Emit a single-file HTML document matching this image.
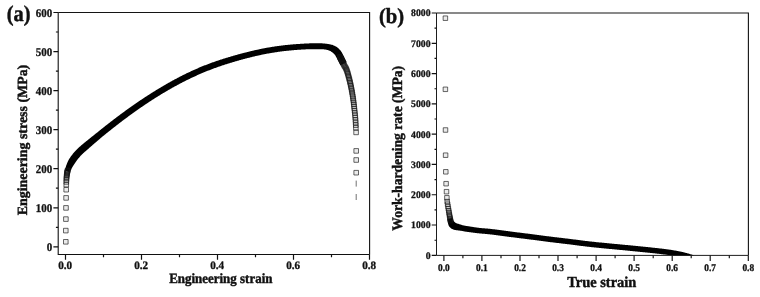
<!DOCTYPE html>
<html><head><meta charset="utf-8"><title>Stress-strain</title>
<style>html,body{margin:0;padding:0;background:#fff}svg{display:block}text{text-rendering:geometricPrecision}</style></head>
<body>
<svg width="760" height="297" viewBox="0 0 760 297">
<rect width="760" height="297" fill="#fff"/>
<defs><clipPath id="ca"><rect x="58.2" y="12.5" width="311.4" height="242.0"/></clipPath><clipPath id="cb"><rect x="436.5" y="13.0" width="311.9" height="242.4"/></clipPath></defs>
<path d="M58.2 12.5H369.6V254.5" fill="none" stroke="#141414" stroke-width="1.12"/>
<path d="M436.5 13.0H748.4V255.4" fill="none" stroke="#141414" stroke-width="1.12"/>
<g clip-path="url(#ca)" fill="none" stroke="#000"><path d="M70.16 172.25L70.37 171.65L70.58 171.08L70.81 170.52L71.04 169.95L71.28 169.39L71.53 168.85L71.79 168.32L72.05 167.81L72.33 167.30L72.62 166.78L72.93 166.25L73.24 165.72L73.56 165.21L73.89 164.71L74.22 164.22L74.56 163.75L74.90 163.29L75.24 162.81L75.57 162.31L75.91 161.80L76.27 161.30L76.62 160.80L76.98 160.31L77.34 159.82L77.71 159.33L78.09 158.85L78.47 158.37L78.86 157.90L79.25 157.43L79.64 156.97L80.04 156.51L80.44 156.07L80.85 155.62L81.27 155.18L81.69 154.75L82.11 154.32L82.54 153.90L82.97 153.49L83.42 153.08L83.87 152.67L84.34 152.26L84.81 151.85L85.29 151.43L85.78 151.01L86.27 150.59L86.77 150.16L87.27 149.74L87.75 149.31L88.23 148.88L88.71 148.46L89.19 148.03L89.68 147.61L90.16 147.18L90.65 146.76L91.14 146.33L91.63 145.90L92.12 145.48L92.61 145.05L93.10 144.62L93.59 144.20L94.08 143.77L94.57 143.35L95.06 142.93L95.55 142.50L96.04 142.08L96.53 141.66L97.02 141.24L97.51 140.81L98.00 140.39L98.49 139.97L98.99 139.55L99.48 139.13L99.97 138.71L100.47 138.29L100.96 137.87L101.45 137.45L101.95 137.03L102.45 136.62L102.95 136.21L103.45 135.80L103.95 135.40L104.46 134.99L104.96 134.58L105.46 134.17L105.96 133.77L106.47 133.36L106.97 132.95L107.48 132.55L107.98 132.14L108.49 131.74L108.99 131.33L109.50 130.93L110.00 130.53L110.51 130.13L111.02 129.72L111.53 129.32L112.03 128.92L112.54 128.52L113.05 128.12L113.56 127.72L114.07 127.32L114.58 126.92L115.09 126.52L115.60 126.13L116.11 125.73L116.62 125.33L117.13 124.94L117.64 124.54L118.16 124.15L118.67 123.75L119.18 123.36L119.70 122.97L120.21 122.57L120.72 122.18L121.24 121.79L121.75 121.40L122.27 121.01L122.78 120.62L123.30 120.23L123.82 119.84L124.33 119.45L124.85 119.07L125.37 118.68L125.89 118.29L126.41 117.91L126.93 117.52L127.45 117.14L127.97 116.75L128.49 116.37L129.01 115.99L129.53 115.61L130.05 115.22L130.57 114.84L131.10 114.46L131.62 114.08L132.14 113.71L132.67 113.33L133.19 112.95L133.72 112.57L134.24 112.20L134.77 111.82L135.30 111.45L135.82 111.07L136.35 110.70L136.88 110.33L137.41 109.96L137.93 109.58L138.46 109.21L138.99 108.84L139.52 108.47L140.05 108.11L140.58 107.74L141.12 107.37L141.65 107.01L142.18 106.64L142.71 106.28L143.25 105.91L143.78 105.55L144.32 105.19L144.85 104.82L145.39 104.46L145.92 104.10L146.46 103.74L147.00 103.38L147.53 103.03L148.07 102.67L148.61 102.31L149.15 101.96L149.69 101.60L150.23 101.25L150.77 100.90L151.31 100.54L151.85 100.19L152.39 99.84L152.94 99.49L153.48 99.15L154.02 98.80L154.57 98.45L155.11 98.11L155.66 97.76L156.21 97.42L156.75 97.08L157.30 96.74L157.85 96.40L158.40 96.06L158.95 95.72L159.50 95.38L160.05 95.04L160.60 94.71L161.15 94.37L161.70 94.04L162.25 93.70L162.80 93.37L163.36 93.04L163.91 92.71L164.47 92.38L165.02 92.05L165.58 91.72L166.13 91.40L166.69 91.07L167.24 90.74L167.80 90.42L168.36 90.10L168.92 89.78L169.48 89.45L170.04 89.13L170.60 88.82L171.16 88.50L171.72 88.18L172.28 87.87L172.84 87.55L173.41 87.24L173.97 86.92L174.53 86.61L175.10 86.30L175.66 85.99L176.23 85.68L176.80 85.38L177.36 85.07L177.93 84.76L178.50 84.46L179.07 84.16L179.64 83.86L180.20 83.56L180.77 83.26L181.34 82.96L181.92 82.66L182.49 82.36L183.06 82.07L183.63 81.78L184.21 81.48L184.78 81.19L185.36 80.90L185.93 80.61L186.51 80.33L187.08 80.04L187.66 79.75L188.24 79.47L188.82 79.19L189.39 78.91L189.97 78.63L190.55 78.35L191.13 78.07L191.71 77.80L192.30 77.52L192.88 77.25L193.46 76.98L194.04 76.70L194.63 76.44L195.21 76.17L195.80 75.90L196.38 75.64L196.97 75.37L197.56 75.11L198.14 74.85L198.73 74.59L199.32 74.33L199.91 74.08L200.50 73.82L201.09 73.57L201.68 73.32L202.27 73.06L202.86 72.81L203.45 72.56L204.05 72.32L204.64 72.07L205.23 71.82L205.83 71.58L206.42 71.34L207.02 71.10L207.62 70.86L208.21 70.62L208.81 70.39L209.41 70.15L210.01 69.92L210.61 69.69L211.21 69.46L211.81 69.23L212.41 69.01L213.01 68.78L213.61 68.56L214.22 68.33L214.82 68.11L215.42 67.89L216.03 67.68L216.63 67.46L217.24 67.24L217.85 67.03L218.45 66.82L219.06 66.61L219.67 66.40L220.28 66.19L220.89 65.98L221.50 65.77L222.11 65.57L222.72 65.37L223.33 65.17L223.94 64.96L224.55 64.76L225.17 64.57L225.78 64.37L226.39 64.17L227.01 63.98L227.62 63.78L228.24 63.59L228.85 63.40L229.47 63.21L230.09 63.02L230.70 62.83L231.32 62.64L231.94 62.46L232.55 62.27L233.17 62.09L233.79 61.90L234.41 61.72L235.03 61.54L235.65 61.36L236.27 61.18L236.89 61.00L237.51 60.82L238.13 60.65L238.75 60.47L239.37 60.30L240.00 60.12L240.62 59.95L241.24 59.78L241.86 59.61L242.49 59.44L243.11 59.27L243.73 59.10L244.36 58.93L244.98 58.77L245.60 58.60L246.23 58.44L246.85 58.27L247.48 58.11L248.10 57.95L248.73 57.79L249.35 57.63L249.98 57.47L250.60 57.32L251.23 57.16L251.85 57.01L252.48 56.86L253.11 56.71L253.73 56.56L254.36 56.41L254.99 56.26L255.61 56.12L256.24 55.97L256.87 55.83L257.50 55.69L258.13 55.55L258.76 55.41L259.38 55.27L260.01 55.13L260.64 55.00L261.27 54.87L261.90 54.73L262.53 54.60L263.16 54.47L263.79 54.35L264.42 54.22L265.05 54.10L265.68 53.98L266.32 53.85L266.95 53.74L267.58 53.62L268.21 53.50L268.84 53.39L269.48 53.27L270.11 53.16L270.74 53.05L271.38 52.94L272.01 52.84L272.65 52.73L273.28 52.63L273.91 52.53L274.55 52.43L275.18 52.33L275.82 52.23L276.45 52.14L277.09 52.05L277.73 51.95L278.36 51.86L279.00 51.77L279.64 51.69L280.27 51.60L280.91 51.52L281.55 51.44L282.19 51.35L282.83 51.27L283.46 51.20L284.10 51.12L284.74 51.05L285.38 50.97L286.02 50.90L286.66 50.83L287.30 50.76L287.94 50.69L288.58 50.63L289.22 50.56L289.86 50.50L290.50 50.44L291.14 50.38L291.78 50.32L292.43 50.26L293.07 50.20L293.71 50.15L294.35 50.10L294.99 50.04L295.63 49.99L296.28 49.94L296.92 49.89L297.56 49.85L298.21 49.80L298.85 49.76L299.49 49.71L300.13 49.67L300.78 49.63L301.42 49.59L302.07 49.56L302.71 49.52L303.35 49.49L304.00 49.45L304.64 49.42L305.29 49.39L305.94 49.36L306.59 49.33L307.23 49.29L307.87 49.26L308.51 49.24L309.14 49.22L309.76 49.20L310.40 49.19L311.04 49.18L311.69 49.16L312.34 49.15L312.98 49.15L313.62 49.14L314.27 49.13L314.91 49.13L315.55 49.13L316.19 49.13L316.82 49.13L317.46 49.14L318.10 49.15L318.74 49.16L319.39 49.17L320.03 49.19L320.67 49.20L321.31 49.22L321.93 49.24L322.52 49.27L323.10 49.31L323.68 49.36L324.28 49.43L324.89 49.51L325.50 49.60L326.12 49.70L326.72 49.79L327.28 49.89L327.81 50.05L328.34 50.23L328.88 50.44L329.40 50.65L329.88 50.87L330.33 51.10L330.79 51.36L331.24 51.64L331.67 51.92L332.06 52.21L332.46 52.49L332.86 52.80L333.25 53.14L333.63 53.48L333.98 53.83L334.32 54.19L334.65 54.58L334.96 54.97L335.24 55.36L335.50 55.75L335.76 56.17L336.02 56.65L336.30 57.18L336.59 57.75L336.90 58.34L337.19 58.90L337.47 59.45L337.75 60.02L338.04 60.59L338.33 61.17L338.62 61.75L338.91 62.33L339.20 62.91L339.49 63.48L339.78 64.06L340.06 64.64L340.35 65.22L346.65 62.18L346.38 61.59L346.10 61.00L345.81 60.41L345.53 59.81L345.25 59.22L344.97 58.63L344.68 58.05L344.40 57.46L344.12 56.87L343.82 56.26L343.51 55.65L343.20 55.07L342.90 54.49L342.60 53.90L342.26 53.27L341.90 52.61L341.49 51.93L341.03 51.25L340.54 50.61L340.02 49.99L339.47 49.39L338.90 48.82L338.32 48.29L337.71 47.78L337.08 47.29L336.42 46.82L335.73 46.39L335.02 46.01L334.31 45.68L333.59 45.38L332.84 45.11L332.08 44.86L331.34 44.66L330.62 44.50L329.90 44.35L329.16 44.22L328.41 44.10L327.70 43.98L327.02 43.87L326.36 43.77L325.68 43.68L324.99 43.59L324.29 43.51L323.58 43.45L322.86 43.40L322.15 43.36L321.47 43.35L320.82 43.33L320.16 43.31L319.50 43.30L318.84 43.29L318.18 43.28L317.52 43.28L316.86 43.27L316.19 43.27L315.53 43.27L314.87 43.28L314.21 43.28L313.56 43.29L312.90 43.30L312.24 43.31L311.59 43.32L310.93 43.34L310.28 43.35L309.62 43.37L308.94 43.39L308.27 43.41L307.61 43.44L306.95 43.48L306.29 43.51L305.64 43.54L305.00 43.58L304.35 43.61L303.69 43.65L303.04 43.68L302.38 43.72L301.73 43.76L301.07 43.80L300.42 43.84L299.77 43.88L299.11 43.92L298.46 43.97L297.80 44.01L297.15 44.06L296.49 44.10L295.84 44.15L295.19 44.20L294.53 44.25L293.88 44.30L293.22 44.36L292.57 44.41L291.92 44.47L291.26 44.53L290.61 44.58L289.96 44.64L289.30 44.71L288.65 44.77L287.99 44.83L287.34 44.90L286.69 44.97L286.03 45.04L285.38 45.11L284.73 45.18L284.08 45.25L283.42 45.33L282.77 45.40L282.12 45.48L281.46 45.56L280.81 45.64L280.16 45.73L279.51 45.81L278.86 45.90L278.21 45.99L277.55 46.07L276.90 46.17L276.25 46.26L275.60 46.35L274.95 46.45L274.30 46.55L273.65 46.65L273.00 46.75L272.35 46.85L271.70 46.95L271.05 47.06L270.40 47.17L269.76 47.28L269.11 47.39L268.46 47.50L267.81 47.61L267.16 47.73L266.52 47.85L265.87 47.97L265.23 48.09L264.58 48.21L263.93 48.33L263.29 48.46L262.64 48.59L262.00 48.72L261.35 48.85L260.71 48.98L260.07 49.11L259.43 49.25L258.78 49.38L258.14 49.52L257.50 49.66L256.86 49.80L256.21 49.94L255.57 50.08L254.94 50.23L254.30 50.37L253.66 50.52L253.02 50.67L252.38 50.82L251.74 50.97L251.10 51.12L250.46 51.28L249.83 51.43L249.19 51.59L248.55 51.74L247.92 51.90L247.28 52.06L246.64 52.22L246.01 52.38L245.37 52.54L244.74 52.70L244.11 52.86L243.47 53.02L242.84 53.19L242.20 53.36L241.57 53.52L240.94 53.69L240.31 53.86L239.67 54.03L239.04 54.20L238.41 54.37L237.78 54.55L237.15 54.72L236.52 54.89L235.89 55.07L235.26 55.25L234.63 55.42L234.00 55.60L233.37 55.78L232.74 55.96L232.11 56.14L231.48 56.33L230.85 56.51L230.22 56.69L229.59 56.88L228.96 57.07L228.34 57.25L227.71 57.44L227.08 57.63L226.45 57.82L225.83 58.02L225.20 58.21L224.57 58.41L223.95 58.60L223.32 58.80L222.70 59.00L222.07 59.20L221.45 59.40L220.82 59.60L220.20 59.80L219.58 60.01L218.95 60.22L218.33 60.42L217.71 60.63L217.08 60.84L216.46 61.06L215.84 61.27L215.22 61.48L214.60 61.70L213.98 61.92L213.36 62.14L212.74 62.36L212.12 62.58L211.50 62.81L210.89 63.03L210.27 63.26L209.65 63.49L209.04 63.72L208.42 63.95L207.80 64.18L207.19 64.42L206.58 64.65L205.96 64.89L205.35 65.13L204.74 65.37L204.13 65.61L203.52 65.86L202.90 66.10L202.29 66.35L201.69 66.60L201.08 66.85L200.47 67.10L199.86 67.36L199.26 67.61L198.65 67.87L198.05 68.13L197.44 68.39L196.84 68.65L196.24 68.92L195.63 69.18L195.03 69.45L194.43 69.72L193.83 69.98L193.23 70.26L192.64 70.53L192.04 70.80L191.44 71.08L190.84 71.35L190.25 71.63L189.65 71.91L189.06 72.19L188.47 72.47L187.87 72.76L187.28 73.04L186.69 73.33L186.10 73.62L185.51 73.90L184.92 74.19L184.33 74.48L183.74 74.78L183.16 75.07L182.57 75.36L181.98 75.66L181.40 75.96L180.81 76.26L180.23 76.56L179.64 76.86L179.06 77.16L178.48 77.46L177.90 77.76L177.32 78.07L176.73 78.38L176.16 78.68L175.58 78.99L175.00 79.30L174.42 79.61L173.84 79.92L173.27 80.24L172.69 80.55L172.11 80.87L171.54 81.18L170.97 81.50L170.39 81.82L169.82 82.14L169.25 82.46L168.68 82.78L168.11 83.10L167.53 83.42L166.96 83.75L166.40 84.07L165.83 84.40L165.26 84.73L164.69 85.06L164.12 85.39L163.56 85.72L162.99 86.05L162.43 86.38L161.86 86.71L161.30 87.05L160.74 87.38L160.17 87.72L159.61 88.06L159.05 88.39L158.49 88.73L157.93 89.07L157.37 89.41L156.81 89.75L156.25 90.10L155.69 90.44L155.14 90.78L154.58 91.13L154.02 91.47L153.47 91.82L152.91 92.17L152.36 92.52L151.80 92.87L151.25 93.22L150.70 93.57L150.14 93.92L149.59 94.27L149.04 94.63L148.49 94.98L147.94 95.33L147.39 95.69L146.84 96.04L146.29 96.40L145.74 96.76L145.19 97.12L144.65 97.47L144.10 97.83L143.55 98.19L143.01 98.55L142.46 98.92L141.92 99.28L141.37 99.64L140.83 100.01L140.28 100.37L139.74 100.74L139.20 101.10L138.66 101.47L138.12 101.84L137.57 102.21L137.03 102.57L136.49 102.94L135.95 103.32L135.42 103.69L134.88 104.06L134.34 104.43L133.80 104.80L133.27 105.18L132.73 105.55L132.19 105.93L131.66 106.30L131.12 106.68L130.59 107.06L130.06 107.44L129.52 107.82L128.99 108.19L128.46 108.57L127.93 108.96L127.39 109.34L126.86 109.72L126.33 110.10L125.80 110.48L125.27 110.87L124.74 111.25L124.22 111.64L123.69 112.02L123.16 112.41L122.63 112.80L122.11 113.18L121.58 113.57L121.05 113.96L120.53 114.35L120.00 114.74L119.48 115.13L118.96 115.52L118.43 115.91L117.91 116.30L117.39 116.70L116.87 117.09L116.34 117.48L115.82 117.88L115.30 118.27L114.78 118.67L114.26 119.06L113.74 119.46L113.22 119.86L112.70 120.26L112.19 120.65L111.67 121.05L111.15 121.45L110.63 121.85L110.12 122.25L109.60 122.65L109.09 123.05L108.57 123.45L108.06 123.86L107.54 124.26L107.03 124.66L106.51 125.06L106.00 125.47L105.49 125.87L104.97 126.28L104.46 126.68L103.95 127.09L103.44 127.50L102.93 127.90L102.42 128.31L101.91 128.72L101.40 129.12L100.89 129.53L100.38 129.94L99.87 130.35L99.36 130.76L98.85 131.17L98.35 131.58L97.84 131.99L97.33 132.39L96.81 132.80L96.30 133.20L95.79 133.61L95.27 134.01L94.76 134.42L94.25 134.82L93.74 135.23L93.23 135.64L92.72 136.04L92.21 136.45L91.70 136.86L91.19 137.27L90.68 137.68L90.17 138.09L89.66 138.50L89.16 138.91L88.65 139.32L88.14 139.73L87.64 140.14L87.13 140.55L86.63 140.95L86.12 141.37L85.61 141.78L85.10 142.19L84.59 142.60L84.09 143.02L83.58 143.44L83.07 143.86L82.57 144.28L82.08 144.70L81.59 145.12L81.09 145.54L80.59 145.97L80.09 146.41L79.58 146.85L79.07 147.30L78.56 147.76L78.05 148.24L77.54 148.72L77.04 149.21L76.55 149.70L76.07 150.20L75.59 150.71L75.12 151.22L74.65 151.74L74.19 152.26L73.74 152.79L73.30 153.32L72.86 153.86L72.43 154.39L72.01 154.94L71.59 155.48L71.18 156.04L70.77 156.60L70.37 157.16L69.98 157.72L69.60 158.29L69.21 158.88L68.84 159.49L68.51 160.14L68.19 160.79L67.89 161.44L67.60 162.09L67.33 162.73L67.07 163.37L66.81 164.01L66.55 164.67L66.30 165.35L66.06 166.04L65.86 166.73L65.66 167.40L65.48 168.08L65.31 168.75L65.14 169.42L64.99 170.09L64.84 170.75Z" fill="#000" stroke="none"/><g stroke-width="0.65" stroke="#161616" fill="#000" fill-opacity="0.08"><path d="M63.50 239.50h4.6v4.6h-4.6z"/><path d="M63.50 228.30h4.6v4.6h-4.6z"/><path d="M63.60 216.80h4.6v4.6h-4.6z"/><path d="M63.70 205.60h4.6v4.6h-4.6z"/><path d="M63.80 195.60h4.6v4.6h-4.6z"/><path d="M63.90 187.40h4.6v4.6h-4.6z"/><path d="M63.95 182.40h4.6v4.6h-4.6z"/><path d="M64.00 179.60h4.6v4.6h-4.6z"/><path d="M64.10 177.50h4.6v4.6h-4.6z"/><path d="M64.20 175.80h4.6v4.6h-4.6z"/><path d="M64.30 174.30h4.6v4.6h-4.6z"/><path d="M64.45 173.00h4.6v4.6h-4.6z"/><path d="M64.60 171.90h4.6v4.6h-4.6z"/><path d="M64.75 170.90h4.6v4.6h-4.6z"/><path d="M64.90 170.10h4.6v4.6h-4.6z"/><path d="M65.05 169.40h4.6v4.6h-4.6z"/><path d="M65.20 168.70h4.6v4.6h-4.6z"/><path d="M65.40 168.10h4.6v4.6h-4.6z"/><path d="M337.70 54.70h4.6v4.6h-4.6z"/><path d="M338.30 55.80h4.6v4.6h-4.6z"/><path d="M338.89 56.90h4.6v4.6h-4.6z"/><path d="M339.46 58.03h4.6v4.6h-4.6z"/><path d="M340.02 59.18h4.6v4.6h-4.6z"/><path d="M340.56 60.34h4.6v4.6h-4.6z"/><path d="M341.11 61.52h4.6v4.6h-4.6z"/><path d="M341.69 62.69h4.6v4.6h-4.6z"/><path d="M342.35 63.84h4.6v4.6h-4.6z"/><path d="M343.06 64.99h4.6v4.6h-4.6z"/><path d="M343.71 66.18h4.6v4.6h-4.6z"/><path d="M344.24 67.45h4.6v4.6h-4.6z"/><path d="M344.72 68.77h4.6v4.6h-4.6z"/><path d="M345.16 70.12h4.6v4.6h-4.6z"/><path d="M345.57 71.50h4.6v4.6h-4.6z"/><path d="M345.96 72.91h4.6v4.6h-4.6z"/><path d="M346.35 74.35h4.6v4.6h-4.6z"/><path d="M346.73 75.82h4.6v4.6h-4.6z"/><path d="M347.12 77.31h4.6v4.6h-4.6z"/><path d="M347.49 78.83h4.6v4.6h-4.6z"/><path d="M347.86 80.39h4.6v4.6h-4.6z"/><path d="M348.22 81.97h4.6v4.6h-4.6z"/><path d="M348.57 83.60h4.6v4.6h-4.6z"/><path d="M348.91 85.25h4.6v4.6h-4.6z"/><path d="M349.24 86.95h4.6v4.6h-4.6z"/><path d="M349.56 88.68h4.6v4.6h-4.6z"/><path d="M349.87 90.45h4.6v4.6h-4.6z"/><path d="M350.18 92.26h4.6v4.6h-4.6z"/><path d="M350.47 94.12h4.6v4.6h-4.6z"/><path d="M350.76 96.01h4.6v4.6h-4.6z"/><path d="M351.03 97.95h4.6v4.6h-4.6z"/><path d="M351.30 99.94h4.6v4.6h-4.6z"/><path d="M351.55 101.98h4.6v4.6h-4.6z"/><path d="M351.80 104.07h4.6v4.6h-4.6z"/><path d="M352.04 106.21h4.6v4.6h-4.6z"/><path d="M352.28 108.40h4.6v4.6h-4.6z"/><path d="M352.53 110.65h4.6v4.6h-4.6z"/><path d="M352.78 112.96h4.6v4.6h-4.6z"/><path d="M353.01 115.32h4.6v4.6h-4.6z"/><path d="M353.20 117.76h4.6v4.6h-4.6z"/><path d="M353.35 120.26h4.6v4.6h-4.6z"/><path d="M353.48 122.83h4.6v4.6h-4.6z"/><path d="M353.60 125.47h4.6v4.6h-4.6z"/><path d="M353.80 130.10h4.6v4.6h-4.6z"/><path d="M353.90 148.60h4.6v4.6h-4.6z"/><path d="M353.90 157.70h4.6v4.6h-4.6z"/><path d="M353.90 170.40h4.6v4.6h-4.6z"/></g><path d="M356.2 180.6v6M356.2 194.0v6" stroke="#333" stroke-width="0.7"/></g>
<g clip-path="url(#cb)" fill="none" stroke="#000"><path d="M447.30 219.23L447.43 219.84L447.55 220.43L447.66 220.99L447.74 221.59L447.83 222.28L447.96 223.07L448.16 223.92L448.42 224.80L448.74 225.68L449.19 226.59L449.90 227.37L450.69 228.06L451.53 228.63L452.37 229.07L453.22 229.43L454.04 229.71L454.81 229.91L455.54 230.06L456.23 230.16L456.87 230.25L457.48 230.34L458.09 230.42L458.72 230.52L459.36 230.61L459.99 230.69L460.63 230.78L461.27 230.86L461.90 230.98L462.53 231.10L463.17 231.22L463.81 231.33L464.45 231.44L465.09 231.54L465.73 231.64L466.36 231.74L467.00 231.83L467.63 231.91L468.26 232.00L468.88 232.08L469.51 232.17L470.13 232.25L470.75 232.33L471.36 232.41L471.98 232.50L472.59 232.59L473.21 232.67L473.84 232.76L474.47 232.85L475.10 232.93L475.74 233.02L476.38 233.10L477.02 233.18L477.66 233.25L478.31 233.31L478.94 233.37L479.58 233.43L480.22 233.49L480.85 233.55L481.48 233.61L482.11 233.66L482.74 233.72L483.37 233.77L484.00 233.82L484.62 233.87L485.25 233.92L485.87 233.98L486.49 234.03L487.11 234.08L487.72 234.14L488.34 234.20L488.95 234.26L489.56 234.32L490.18 234.38L490.79 234.45L491.41 234.52L492.02 234.59L492.64 234.67L493.26 234.74L493.87 234.82L494.49 234.89L495.11 234.97L495.72 235.05L496.34 235.13L496.96 235.21L497.58 235.29L498.20 235.38L498.82 235.46L499.44 235.54L500.06 235.63L500.68 235.71L501.30 235.80L501.92 235.89L502.54 235.97L503.16 236.06L503.78 236.14L504.41 236.23L505.03 236.31L505.65 236.40L506.28 236.48L506.90 236.57L507.53 236.65L508.15 236.73L508.78 236.82L509.41 236.90L510.03 236.98L510.66 237.06L511.28 237.13L511.90 237.21L512.53 237.29L513.15 237.37L513.77 237.45L514.40 237.53L515.02 237.60L515.64 237.68L516.26 237.76L516.89 237.84L517.51 237.91L518.13 237.99L518.76 238.07L519.38 238.14L520.00 238.22L520.62 238.30L521.25 238.38L521.87 238.45L522.49 238.53L523.11 238.61L523.74 238.68L524.36 238.76L524.98 238.84L525.60 238.92L526.22 238.99L526.84 239.07L527.47 239.15L528.09 239.23L528.71 239.31L529.33 239.39L529.95 239.47L530.57 239.55L531.19 239.63L531.81 239.71L532.43 239.79L533.05 239.87L533.68 239.95L534.30 240.03L534.92 240.11L535.54 240.19L536.16 240.27L536.78 240.36L537.40 240.44L538.03 240.52L538.65 240.60L539.27 240.68L539.89 240.77L540.51 240.85L541.14 240.93L541.76 241.01L542.38 241.09L543.01 241.18L543.63 241.26L544.25 241.34L544.87 241.42L545.50 241.50L546.12 241.58L546.75 241.66L547.37 241.74L547.99 241.82L548.62 241.90L549.24 241.98L549.87 242.05L550.49 242.13L551.12 242.21L551.74 242.29L552.36 242.36L552.99 242.44L553.61 242.51L554.24 242.59L554.86 242.66L555.48 242.74L556.11 242.81L556.73 242.89L557.36 242.96L557.98 243.04L558.60 243.11L559.23 243.18L559.85 243.26L560.47 243.33L561.10 243.40L561.72 243.48L562.34 243.55L562.96 243.63L563.59 243.70L564.21 243.77L564.83 243.85L565.45 243.92L566.07 244.00L566.70 244.07L567.32 244.14L567.94 244.22L568.56 244.29L569.18 244.37L569.80 244.45L570.42 244.52L571.04 244.60L571.66 244.68L572.28 244.76L572.90 244.83L573.52 244.91L574.15 244.99L574.77 245.07L575.39 245.15L576.01 245.23L576.63 245.31L577.25 245.40L577.88 245.48L578.50 245.56L579.12 245.64L579.74 245.72L580.37 245.80L580.99 245.88L581.61 245.96L582.24 246.04L582.86 246.12L583.49 246.20L584.11 246.27L584.74 246.35L585.36 246.43L585.99 246.50L586.62 246.58L587.24 246.65L587.87 246.73L588.50 246.80L589.13 246.87L589.75 246.94L590.38 247.01L591.01 247.08L591.63 247.15L592.26 247.21L592.89 247.28L593.51 247.34L594.14 247.41L594.77 247.47L595.39 247.54L596.02 247.60L596.65 247.67L597.27 247.73L597.90 247.79L598.52 247.85L599.15 247.91L599.77 247.98L600.40 248.04L601.03 248.10L601.65 248.16L602.28 248.22L602.90 248.28L603.53 248.34L604.15 248.40L604.77 248.46L605.40 248.52L606.02 248.58L606.65 248.64L607.27 248.70L607.90 248.76L608.52 248.82L609.14 248.88L609.77 248.94L610.39 249.00L611.02 249.06L611.64 249.12L612.27 249.18L612.89 249.24L613.52 249.30L614.15 249.36L614.77 249.42L615.40 249.48L616.02 249.54L616.65 249.60L617.27 249.66L617.90 249.71L618.52 249.77L619.14 249.83L619.77 249.89L620.39 249.95L621.02 250.01L621.64 250.07L622.27 250.12L622.89 250.18L623.52 250.24L624.14 250.30L624.76 250.36L625.39 250.42L626.01 250.48L626.63 250.54L627.26 250.60L627.88 250.66L628.51 250.72L629.13 250.78L629.75 250.84L630.38 250.90L631.00 250.96L631.62 251.02L632.25 251.08L632.87 251.14L633.50 251.20L634.12 251.27L634.75 251.33L635.37 251.39L635.99 251.45L636.62 251.51L637.24 251.57L637.87 251.63L638.49 251.69L639.11 251.76L639.74 251.82L640.36 251.88L640.98 251.94L641.61 252.00L642.23 252.07L642.85 252.13L643.48 252.19L644.10 252.26L644.72 252.32L645.35 252.38L645.97 252.45L646.59 252.51L647.22 252.57L647.84 252.64L648.46 252.70L649.08 252.77L649.71 252.83L650.33 252.90L650.95 252.97L651.58 253.03L652.20 253.10L652.82 253.16L653.44 253.23L654.07 253.30L654.69 253.36L655.31 253.43L655.93 253.50L656.55 253.57L657.17 253.64L657.79 253.71L658.41 253.78L659.03 253.85L659.65 253.93L660.27 254.00L660.89 254.08L661.51 254.15L662.13 254.23L662.75 254.30L663.37 254.38L663.99 254.45L664.61 254.53L665.22 254.61L665.84 254.69L666.45 254.77L667.07 254.86L667.68 254.94L668.29 255.03L668.91 255.12L669.52 255.21L670.13 255.30L670.74 255.40L671.35 255.49L671.96 255.59L672.57 255.69L673.17 255.80L673.78 255.90L674.39 256.01L675.00 256.12L675.61 256.24L676.22 256.35L676.82 256.47L677.43 256.58L678.04 256.71L678.64 256.83L679.25 256.95L679.85 257.08L680.45 257.21L681.05 257.34L681.64 257.47L682.24 257.61L682.83 257.75L683.43 257.90L684.02 258.05L684.61 258.20L685.20 258.36L685.79 258.52L686.37 258.68L686.95 258.85L687.52 259.02L688.09 259.19L688.65 259.38L689.20 259.57L689.74 259.76L690.25 259.96L690.75 260.17L691.26 260.41L691.80 260.67L694.20 255.73L693.61 255.44L692.98 255.15L692.33 254.87L691.67 254.61L691.03 254.38L690.40 254.16L689.76 253.96L689.13 253.76L688.50 253.57L687.87 253.39L687.25 253.21L686.63 253.04L686.00 252.88L685.38 252.72L684.75 252.56L684.13 252.41L683.50 252.26L682.87 252.11L682.24 251.97L681.62 251.83L680.99 251.70L680.37 251.57L679.74 251.44L679.12 251.31L678.49 251.19L677.87 251.07L677.24 250.95L676.62 250.83L675.99 250.71L675.36 250.60L674.74 250.49L674.11 250.38L673.48 250.27L672.85 250.17L672.22 250.06L671.59 249.96L670.96 249.87L670.33 249.77L669.70 249.68L669.07 249.58L668.45 249.50L667.82 249.41L667.19 249.32L666.56 249.24L665.93 249.16L665.30 249.08L664.67 249.00L664.05 248.92L663.42 248.84L662.79 248.77L662.17 248.69L661.54 248.61L660.92 248.54L660.30 248.47L659.67 248.39L659.04 248.32L658.41 248.25L657.79 248.17L657.16 248.10L656.53 248.03L655.91 247.97L655.28 247.90L654.66 247.83L654.03 247.76L653.41 247.69L652.78 247.63L652.16 247.56L651.53 247.50L650.91 247.43L650.28 247.36L649.66 247.30L649.03 247.23L648.41 247.17L647.78 247.10L647.16 247.04L646.53 246.97L645.91 246.91L645.28 246.85L644.66 246.78L644.03 246.72L643.41 246.66L642.78 246.59L642.16 246.53L641.53 246.47L640.91 246.41L640.28 246.34L639.66 246.28L639.03 246.22L638.41 246.16L637.78 246.10L637.16 246.04L636.53 245.97L635.91 245.91L635.28 245.85L634.66 245.79L634.03 245.73L633.41 245.67L632.78 245.61L632.16 245.55L631.53 245.49L630.91 245.43L630.29 245.36L629.66 245.30L629.03 245.24L628.41 245.18L627.78 245.12L627.16 245.06L626.53 245.00L625.91 244.94L625.28 244.88L624.66 244.83L624.03 244.77L623.41 244.71L622.78 244.65L622.16 244.59L621.53 244.53L620.91 244.47L620.28 244.41L619.66 244.36L619.03 244.30L618.41 244.24L617.79 244.18L617.16 244.12L616.54 244.06L615.91 244.00L615.29 243.94L614.66 243.89L614.04 243.83L613.42 243.77L612.79 243.71L612.17 243.65L611.55 243.59L610.92 243.53L610.30 243.47L609.68 243.41L609.05 243.34L608.42 243.28L607.80 243.22L607.17 243.16L606.55 243.10L605.93 243.04L605.30 242.98L604.68 242.92L604.05 242.86L603.43 242.80L602.80 242.74L602.18 242.68L601.56 242.62L600.93 242.56L600.31 242.50L599.69 242.44L599.06 242.38L598.44 242.32L597.82 242.26L597.20 242.19L596.57 242.13L595.95 242.07L595.33 242.00L594.71 241.94L594.09 241.87L593.46 241.81L592.84 241.74L592.22 241.68L591.60 241.61L590.98 241.54L590.36 241.47L589.74 241.40L589.12 241.33L588.51 241.26L587.89 241.19L587.27 241.12L586.65 241.04L586.03 240.97L585.41 240.89L584.79 240.81L584.17 240.74L583.55 240.66L582.93 240.58L582.31 240.50L581.69 240.42L581.07 240.34L580.45 240.26L579.83 240.18L579.20 240.10L578.58 240.02L577.96 239.94L577.34 239.86L576.72 239.78L576.09 239.70L575.47 239.62L574.85 239.54L574.22 239.46L573.60 239.38L572.97 239.30L572.35 239.22L571.72 239.14L571.10 239.06L570.47 238.99L569.85 238.91L569.22 238.84L568.60 238.76L567.98 238.68L567.35 238.61L566.73 238.53L566.10 238.46L565.48 238.39L564.86 238.31L564.23 238.24L563.61 238.16L562.99 238.09L562.36 238.02L561.74 237.94L561.12 237.87L560.49 237.80L559.87 237.72L559.25 237.65L558.63 237.57L558.00 237.50L557.38 237.43L556.76 237.35L556.14 237.28L555.52 237.20L554.89 237.13L554.27 237.05L553.65 236.98L553.03 236.90L552.41 236.83L551.79 236.75L551.17 236.67L550.55 236.60L549.93 236.52L549.31 236.44L548.69 236.36L548.06 236.28L547.44 236.20L546.82 236.13L546.20 236.04L545.58 235.96L544.96 235.88L544.34 235.80L543.72 235.72L543.10 235.64L542.48 235.56L541.85 235.48L541.23 235.40L540.61 235.31L539.99 235.23L539.37 235.15L538.75 235.07L538.12 234.99L537.50 234.90L536.88 234.82L536.26 234.74L535.63 234.66L535.01 234.58L534.39 234.49L533.77 234.41L533.14 234.33L532.52 234.25L531.89 234.17L531.27 234.09L530.65 234.01L530.02 233.93L529.40 233.85L528.78 233.77L528.15 233.69L527.53 233.62L526.91 233.54L526.28 233.46L525.66 233.38L525.04 233.30L524.41 233.23L523.79 233.15L523.17 233.07L522.55 232.99L521.92 232.92L521.30 232.84L520.68 232.76L520.05 232.69L519.43 232.61L518.81 232.53L518.19 232.45L517.56 232.38L516.94 232.30L516.32 232.22L515.70 232.15L515.08 232.07L514.45 231.99L513.83 231.91L513.21 231.83L512.59 231.76L511.97 231.68L511.35 231.60L510.73 231.52L510.11 231.44L509.49 231.36L508.87 231.28L508.25 231.20L507.63 231.12L507.01 231.03L506.40 230.95L505.78 230.87L505.16 230.78L504.53 230.69L503.91 230.61L503.29 230.52L502.67 230.44L502.05 230.35L501.43 230.27L500.80 230.18L500.18 230.10L499.56 230.01L498.93 229.93L498.31 229.84L497.68 229.76L497.06 229.68L496.43 229.60L495.80 229.51L495.18 229.44L494.55 229.36L493.92 229.28L493.29 229.20L492.66 229.13L492.03 229.06L491.40 228.99L490.77 228.92L490.13 228.85L489.50 228.78L488.86 228.72L488.23 228.66L487.60 228.60L486.96 228.55L486.33 228.50L485.70 228.44L485.08 228.39L484.45 228.34L483.83 228.29L483.20 228.24L482.58 228.18L481.96 228.13L481.35 228.07L480.73 228.02L480.12 227.96L479.51 227.89L478.90 227.82L478.29 227.75L477.69 227.67L477.09 227.59L476.49 227.51L475.88 227.42L475.27 227.32L474.66 227.23L474.04 227.13L473.42 227.03L472.80 226.93L472.17 226.84L471.55 226.74L470.92 226.65L470.30 226.55L469.68 226.46L469.06 226.37L468.45 226.27L467.84 226.18L467.23 226.08L466.63 225.98L466.03 225.88L465.43 225.77L464.84 225.66L464.25 225.55L463.65 225.43L463.05 225.30L462.46 225.16L461.87 224.99L461.28 224.81L460.69 224.62L460.10 224.44L459.50 224.25L458.90 224.06L458.28 223.87L457.68 223.69L457.14 223.51L456.65 223.34L456.24 223.18L455.89 223.02L455.57 222.85L455.32 222.67L455.16 222.53L455.01 222.36L454.88 222.18L454.64 222.07L454.35 221.85L454.09 221.56L453.88 221.24L453.69 220.82L453.50 220.28L453.30 219.65L453.10 218.99L452.90 218.37L452.70 217.77Z" fill="#000" stroke="none"/><g stroke-width="0.65" stroke="#161616" fill="#000" fill-opacity="0.08"><path d="M443.15 15.95h4.5v4.5h-4.5z"/><path d="M443.15 87.05h4.5v4.5h-4.5z"/><path d="M443.25 127.75h4.5v4.5h-4.5z"/><path d="M443.35 152.95h4.5v4.5h-4.5z"/><path d="M443.55 169.55h4.5v4.5h-4.5z"/><path d="M443.85 181.45h4.5v4.5h-4.5z"/><path d="M444.25 189.45h4.5v4.5h-4.5z"/><path d="M444.65 195.55h4.5v4.5h-4.5z"/><path d="M444.95 199.35h4.5v4.5h-4.5z"/><path d="M445.35 201.92h4.5v4.5h-4.5z"/><path d="M445.74 204.28h4.5v4.5h-4.5z"/><path d="M446.12 206.44h4.5v4.5h-4.5z"/><path d="M446.47 208.42h4.5v4.5h-4.5z"/><path d="M446.77 210.25h4.5v4.5h-4.5z"/><path d="M447.05 211.93h4.5v4.5h-4.5z"/><path d="M447.32 213.47h4.5v4.5h-4.5z"/><path d="M447.58 214.89h4.5v4.5h-4.5z"/><path d="M447.82 216.18h4.5v4.5h-4.5z"/><path d="M448.06 217.37h4.5v4.5h-4.5z"/><path d="M448.29 218.46h4.5v4.5h-4.5z"/></g></g>
<path d="M58.2 12.5V254.5H369.6" fill="none" stroke="#111" stroke-width="1.1"/>
<path d="M436.5 13.0V255.4H748.4" fill="none" stroke="#111" stroke-width="0.95"/>
<path d="M53.4 246.8H58.2M53.4 207.8H58.2M53.4 168.7H58.2M53.4 129.7H58.2M53.4 90.6H58.2M53.4 51.6H58.2M53.4 12.5H58.2M55.9 227.3H58.2M55.9 188.2H58.2M55.9 149.2H58.2M55.9 110.1H58.2M55.9 71.1H58.2M55.9 32.0H58.2M65.5 254.5v5.3M141.5 254.5v5.3M217.5 254.5v5.3M293.5 254.5v5.3M369.5 254.5v5.3M103.5 254.5v2.7M179.5 254.5v2.7M255.5 254.5v2.7M331.5 254.5v2.7" fill="none" stroke="#111" stroke-width="1.2"/>
<path d="M431.7 255.3H436.5M431.7 225.0H436.5M431.7 194.7H436.5M431.7 164.4H436.5M431.7 134.1H436.5M431.7 103.9H436.5M431.7 73.6H436.5M431.7 43.3H436.5M431.7 13.0H436.5M434.5 240.2H436.5M434.5 209.9H436.5M434.5 179.6H436.5M434.5 149.3H436.5M434.5 119.0H436.5M434.5 88.7H436.5M434.5 58.4H436.5M434.5 28.1H436.5M443.9 255.4v5.6M481.9 255.4v5.6M520.0 255.4v5.6M558.0 255.4v5.6M596.1 255.4v5.6M634.1 255.4v5.6M672.2 255.4v5.6M710.2 255.4v5.6M748.3 255.4v5.6M462.9 255.4v2.8M501.0 255.4v2.8M539.0 255.4v2.8M577.1 255.4v2.8M615.1 255.4v2.8M653.2 255.4v2.8M691.2 255.4v2.8M729.3 255.4v2.8" fill="none" stroke="#111" stroke-width="1.15"/>
<g font-family="'Liberation Serif','Times New Roman',serif" font-weight="bold" fill="#111" stroke="#111" stroke-width="0.3" stroke-linejoin="round">
<text x="52.3" y="250.8" text-anchor="end" font-size="11.8" textLength="5.49" lengthAdjust="spacingAndGlyphs">0</text>
<text x="52.3" y="211.8" text-anchor="end" font-size="11.8" textLength="16.46" lengthAdjust="spacingAndGlyphs">100</text>
<text x="52.3" y="172.7" text-anchor="end" font-size="11.8" textLength="16.46" lengthAdjust="spacingAndGlyphs">200</text>
<text x="52.3" y="133.7" text-anchor="end" font-size="11.8" textLength="16.46" lengthAdjust="spacingAndGlyphs">300</text>
<text x="52.3" y="94.6" text-anchor="end" font-size="11.8" textLength="16.46" lengthAdjust="spacingAndGlyphs">400</text>
<text x="52.3" y="55.6" text-anchor="end" font-size="11.8" textLength="16.46" lengthAdjust="spacingAndGlyphs">500</text>
<text x="52.3" y="16.5" text-anchor="end" font-size="11.8" textLength="16.46" lengthAdjust="spacingAndGlyphs">600</text>
<text x="65.2" y="269.2" text-anchor="middle" font-size="11.4" textLength="13.96" lengthAdjust="spacingAndGlyphs">0.0</text>
<text x="141.2" y="269.2" text-anchor="middle" font-size="11.4" textLength="13.96" lengthAdjust="spacingAndGlyphs">0.2</text>
<text x="217.2" y="269.2" text-anchor="middle" font-size="11.4" textLength="13.96" lengthAdjust="spacingAndGlyphs">0.4</text>
<text x="293.2" y="269.2" text-anchor="middle" font-size="11.4" textLength="13.96" lengthAdjust="spacingAndGlyphs">0.6</text>
<text x="369.2" y="269.2" text-anchor="middle" font-size="11.4" textLength="13.96" lengthAdjust="spacingAndGlyphs">0.8</text>
<text x="430.5" y="258.7" text-anchor="end" font-size="10.0" textLength="4.85" lengthAdjust="spacingAndGlyphs">0</text>
<text x="430.5" y="228.4" text-anchor="end" font-size="10.0" textLength="19.40" lengthAdjust="spacingAndGlyphs">1000</text>
<text x="430.5" y="198.1" text-anchor="end" font-size="10.0" textLength="19.40" lengthAdjust="spacingAndGlyphs">2000</text>
<text x="430.5" y="167.8" text-anchor="end" font-size="10.0" textLength="19.40" lengthAdjust="spacingAndGlyphs">3000</text>
<text x="430.5" y="137.5" text-anchor="end" font-size="10.0" textLength="19.40" lengthAdjust="spacingAndGlyphs">4000</text>
<text x="430.5" y="107.3" text-anchor="end" font-size="10.0" textLength="19.40" lengthAdjust="spacingAndGlyphs">5000</text>
<text x="430.5" y="77.0" text-anchor="end" font-size="10.0" textLength="19.40" lengthAdjust="spacingAndGlyphs">6000</text>
<text x="430.5" y="46.7" text-anchor="end" font-size="10.0" textLength="19.40" lengthAdjust="spacingAndGlyphs">7000</text>
<text x="430.5" y="16.4" text-anchor="end" font-size="10.0" textLength="19.40" lengthAdjust="spacingAndGlyphs">8000</text>
<text x="443.9" y="270.9" text-anchor="middle" font-size="10.2" textLength="11.73" lengthAdjust="spacingAndGlyphs">0.0</text>
<text x="481.9" y="270.9" text-anchor="middle" font-size="10.2" textLength="11.73" lengthAdjust="spacingAndGlyphs">0.1</text>
<text x="520.0" y="270.9" text-anchor="middle" font-size="10.2" textLength="11.73" lengthAdjust="spacingAndGlyphs">0.2</text>
<text x="558.0" y="270.9" text-anchor="middle" font-size="10.2" textLength="11.73" lengthAdjust="spacingAndGlyphs">0.3</text>
<text x="596.1" y="270.9" text-anchor="middle" font-size="10.2" textLength="11.73" lengthAdjust="spacingAndGlyphs">0.4</text>
<text x="634.1" y="270.9" text-anchor="middle" font-size="10.2" textLength="11.73" lengthAdjust="spacingAndGlyphs">0.5</text>
<text x="672.2" y="270.9" text-anchor="middle" font-size="10.2" textLength="11.73" lengthAdjust="spacingAndGlyphs">0.6</text>
<text x="710.2" y="270.9" text-anchor="middle" font-size="10.2" textLength="11.73" lengthAdjust="spacingAndGlyphs">0.7</text>
<text x="748.3" y="270.9" text-anchor="middle" font-size="10.2" textLength="11.73" lengthAdjust="spacingAndGlyphs">0.8</text>
</g>
<text font-family="'Liberation Serif','Times New Roman',serif" font-weight="bold" fill="#111" stroke="#111" stroke-width="0.45" stroke-linejoin="round" font-size="14" x="220.8" y="283.4" text-anchor="middle" textLength="103.3" lengthAdjust="spacingAndGlyphs">Engineering strain</text>
<text font-family="'Liberation Serif','Times New Roman',serif" font-weight="bold" fill="#111" stroke="#111" stroke-width="0.45" stroke-linejoin="round" font-size="15.2" x="601.8" y="287.0" text-anchor="middle" textLength="69.0" lengthAdjust="spacingAndGlyphs">True strain</text>
<text font-family="'Liberation Serif','Times New Roman',serif" font-weight="bold" fill="#111" stroke="#111" stroke-width="0.45" stroke-linejoin="round" font-size="14" transform="translate(26.9 140) rotate(-90)" text-anchor="middle" textLength="150.5" lengthAdjust="spacingAndGlyphs">Engineering stress (MPa)</text>
<text font-family="'Liberation Serif','Times New Roman',serif" font-weight="bold" fill="#111" stroke="#111" stroke-width="0.45" stroke-linejoin="round" font-size="14.5" transform="translate(402.1 148.3) rotate(-90)" text-anchor="middle" textLength="164.8" lengthAdjust="spacingAndGlyphs">Work-hardening rate (MPa)</text>
<text font-family="'Liberation Serif','Times New Roman',serif" font-weight="bold" fill="#111" stroke="#111" stroke-width="0.45" stroke-linejoin="round" font-size="22.5" x="6.7" y="21.0" textLength="23.8" lengthAdjust="spacingAndGlyphs">(a)</text>
<text font-family="'Liberation Serif','Times New Roman',serif" font-weight="bold" fill="#111" stroke="#111" stroke-width="0.45" stroke-linejoin="round" font-size="21.5" x="379" y="22.6" textLength="25.2" lengthAdjust="spacingAndGlyphs">(b)</text>
</svg>
</body></html>
